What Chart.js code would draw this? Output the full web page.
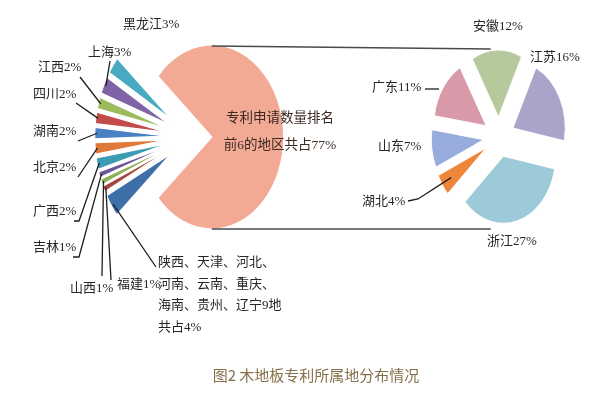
<!DOCTYPE html>
<html lang="zh">
<head>
<meta charset="utf-8">
<title>木地板专利所属地分布情况</title>
<script src="https://cdn.jsdelivr.net/npm/chart.js@4.4.1/dist/chart.umd.min.js"></script>
<style>
  html, body { margin: 0; padding: 0; background: #fff; }
  #stage { position: relative; width: 600px; height: 400px; overflow: hidden; }
  #stage canvas { position: absolute; left: 0; top: 0; }
</style>
</head>
<body>
<div id="stage">
  <canvas id="mainPie" width="600" height="400"></canvas>
  <canvas id="detailPie" width="600" height="400"></canvas>
</div>
<script>
// ---- data (share of wood-floor patents by province, %) ----
const topSixName   = '前6的地区';
const leftLabels   = ['前6地区', '其他9地', '福建', '山西', '吉林', '广西', '北京', '湖南', '四川', '江西', '上海', '黑龙江'];
const leftValues   = [77, 4, 1, 1, 1, 2, 2, 2, 2, 2, 3, 3];
const otherRegions = [['陕西', '天津', '河北'], ['河南', '云南', '重庆'], ['海南', '贵州', '辽宁']];
const rightLabels  = ['安徽', '江苏', '浙江', '湖北', '山东', '广东'];
const rightValues  = [12, 16, 27, 4, 7, 11];
const chartTitle   = '图2 木地板专利所属地分布情况';

// ---- styling ----
const leftColors  = ['#F2AA95', '#3F6FA8', '#A8443E', '#8DAE57', '#6A5596', '#3E9BB4',
                     '#E0793A', '#4A80C4', '#C24B4B', '#9CBB5C', '#7F63A6', '#47A9C2'];
const rightColors = ['#B6C99C', '#A9A5CA', '#9DCAD8', '#EE8639', '#98ABDD', '#D899A9'];
const leftExplode  = [28, 30, 30, 30, 30, 30, 30, 30, 30, 30, 30, 30];  // px each slice is pulled out
const rightExplode = [20, 20, 20, 20, 20, 20];
const SX = 0.78;                       // horizontal squash of both pies (elliptical look)
const LABEL_FONT = "13px 'Liberation Serif', 'Noto Sans CJK SC', serif";
const INK = '#262626';

const total = a => a.reduce((s, v) => s + v, 0);

// Pull every slice outward along its mid angle (Excel-style explosion, no angular trimming),
// and squash the pie horizontally around its centre while the arcs are drawn.
function explodePlugin(amounts) {
  return {
    id: 'explodeSquash',
    afterDatasetUpdate(chart) {
      const ca = chart.chartArea;
      const cx = (ca.left + ca.right) / 2, cy = (ca.top + ca.bottom) / 2;
      chart.$pie = { cx, cy };
      chart.getDatasetMeta(0).data.forEach((arc, i) => {
        const mid = (arc.startAngle + arc.endAngle) / 2;
        const d = amounts[i] || 0;
        arc.x = cx + d * Math.cos(mid);
        arc.y = cy + d * Math.sin(mid);
      });
    },
    beforeDatasetsDraw(chart) {
      const { cx, cy } = chart.$pie;
      const ctx = chart.ctx;
      ctx.save();
      ctx.translate(cx, cy);
      ctx.scale(SX, 1);
      ctx.translate(-cx, -cy);
    },
    afterDatasetsDraw(chart) { chart.ctx.restore(); }
  };
}

// Screen point on slice i, `frac` of the radius out from its own (exploded) vertex along `angle`.
function arcPointAt(chart, i, angle, frac) {
  const a = chart.getDatasetMeta(0).data[i];
  const { cx } = chart.$pie;
  const d = a.outerRadius * frac;
  return {
    x: cx + SX * ((a.x - cx) + d * Math.cos(angle)),
    y: a.y + d * Math.sin(angle)
  };
}
function arcPoint(chart, i, frac) {
  const a = chart.getDatasetMeta(0).data[i];
  return arcPointAt(chart, i, (a.startAngle + a.endAngle) / 2, frac);
}

function polyline(ctx, pts) {
  ctx.beginPath();
  ctx.moveTo(pts[0].x, pts[0].y);
  for (let k = 1; k < pts.length; k++) ctx.lineTo(pts[k].x, pts[k].y);
  ctx.stroke();
}

// callout layout for the main pie: index, text position, leader start points
const leftCallouts = [
  { i: 11, x: 123, y: 25 },
  { i: 10, x: 88,  y: 53,  lead: [[110, 61]] },
  { i: 9,  x: 38,  y: 68,  lead: [[80, 77]] },
  { i: 8,  x: 33,  y: 95,  lead: [[76, 103]] },
  { i: 7,  x: 33,  y: 132, lead: [[78, 141]] },
  { i: 6,  x: 33,  y: 168, lead: [[78, 177]] },
  { i: 5,  x: 33,  y: 212, lead: [[74, 221], [79, 221]] },
  { i: 4,  x: 33,  y: 248, lead: [[73, 257], [79, 257]] },
  { i: 3,  x: 70,  y: 289, lead: [[102, 276]] },
  { i: 2,  x: 117, y: 285, lead: [[111, 280]] }
];
const otherCallout = { i: 1, x: 158, y: 263, lineGap: 21.5, lead: [[156, 267]] };

const mainText = {
  id: 'mainText',
  afterDraw(chart) {
    const ctx = chart.ctx;
    ctx.save();
    ctx.font = LABEL_FONT;
    ctx.fillStyle = INK;
    ctx.strokeStyle = '#1e1e1e';
    ctx.lineWidth = 1.3;
    ctx.textBaseline = 'middle';
    ctx.textAlign = 'left';

    leftCallouts.forEach(c => {
      ctx.fillText(leftLabels[c.i] + leftValues[c.i] + '%', c.x, c.y);
      if (c.lead) {
        const pts = c.lead.map(p => ({ x: p[0], y: p[1] }));
        pts.push(arcPoint(chart, c.i, 0.97));
        polyline(ctx, pts);
      }
    });

    // the nine remaining provinces share one slice
    const count = total(otherRegions.map(g => g.length));
    const lines = [
      otherRegions[0].join('、') + '、',
      otherRegions[1].join('、') + '、',
      otherRegions[2].join('、') + count + '地',
      '共占' + leftValues[otherCallout.i] + '%'
    ];
    lines.forEach((t, k) => ctx.fillText(t, otherCallout.x, otherCallout.y + k * otherCallout.lineGap));
    const op = otherCallout.lead.map(p => ({ x: p[0], y: p[1] }));
    op.push(arcPoint(chart, otherCallout.i, 0.97));
    polyline(ctx, op);

    // caption inside the large slice
    ctx.font = "13.5px 'Liberation Serif', 'Noto Sans CJK SC', serif";
    ctx.fillStyle = '#3b2a22';
    ctx.textAlign = 'center';
    ctx.fillText('专利申请数量排名', 280, 118);
    ctx.fillText(topSixName + '共占' + leftValues[0] + '%', 280, 145);
    ctx.restore();
  }
};

const leftChart = new Chart(document.getElementById('mainPie'), {
  type: 'pie',
  data: {
    labels: leftLabels,
    datasets: [{
      data: leftValues,
      backgroundColor: leftColors,
      borderColor: '#ffffff',
      borderWidth: 1.2,
      clip: false
    }]
  },
  options: {
    responsive: false,
    animation: false,
    events: [],
    rotation: 90 - leftValues[0] / total(leftValues) * 180,
    radius: 92,
    layout: { padding: { left: 0, top: 0, right: 220, bottom: 126 } },
    plugins: { legend: { display: false }, tooltip: { enabled: false } }
  },
  plugins: [explodePlugin(leftExplode), mainText]
});

// callout layout for the detail pie
const rightCallouts = [
  { i: 0, x: 473, y: 27 },
  { i: 1, x: 530, y: 58 },
  { i: 5, x: 372, y: 88, dash: [[425, 89], [439, 89]] },
  { i: 4, x: 378, y: 147 },
  { i: 3, x: 362, y: 202, lead: [[408, 201], [418, 199]] },
  { i: 2, x: 487, y: 242 }
];

const detailText = {
  id: 'detailText',
  afterDraw(chart) {
    const ctx = chart.ctx;
    ctx.save();
    ctx.font = LABEL_FONT;
    ctx.fillStyle = INK;
    ctx.strokeStyle = '#1e1e1e';
    ctx.lineWidth = 1.3;
    ctx.textBaseline = 'middle';
    ctx.textAlign = 'left';
    rightCallouts.forEach(c => {
      ctx.fillText(rightLabels[c.i] + rightValues[c.i] + '%', c.x, c.y);
      if (c.dash) polyline(ctx, c.dash.map(p => ({ x: p[0], y: p[1] })));
      if (c.lead) {
        const pts = c.lead.map(p => ({ x: p[0], y: p[1] }));
        pts.push(arcPoint(chart, c.i, 0.8));
        polyline(ctx, pts);
      }
    });

    // connector lines from the large slice to the detail pie
    const bigTop = arcPointAt(leftChart, 0, -Math.PI / 2, 1);
    const bigBot = arcPointAt(leftChart, 0, Math.PI / 2, 1);
    const first = arcPoint(chart, 0, 1);
    const endX = first.x - 6;
    ctx.strokeStyle = '#4a4a4a';
    ctx.lineWidth = 1.5;
    polyline(ctx, [{ x: bigTop.x, y: bigTop.y + 1 }, { x: endX, y: first.y - 1 }]);
    polyline(ctx, [{ x: bigBot.x, y: bigBot.y }, { x: endX, y: bigBot.y }]);

    // figure caption
    ctx.font = "15px 'Noto Sans CJK SC', sans-serif";
    ctx.fillStyle = '#86704a';
    ctx.textAlign = 'center';
    ctx.fillText(chartTitle, 316, 375);
    ctx.restore();
  }
};

new Chart(document.getElementById('detailPie'), {
  type: 'pie',
  data: {
    labels: rightLabels,
    datasets: [{
      data: rightValues,
      backgroundColor: rightColors,
      borderColor: '#ffffff',
      borderWidth: 1,
      clip: false
    }]
  },
  options: {
    responsive: false,
    animation: false,
    events: [],
    rotation: -30,
    radius: 67,
    layout: { padding: { left: 398, top: 0, right: 0, bottom: 126 } },
    plugins: { legend: { display: false }, tooltip: { enabled: false } }
  },
  plugins: [explodePlugin(rightExplode), detailText]
});
</script>
</body>
</html>
